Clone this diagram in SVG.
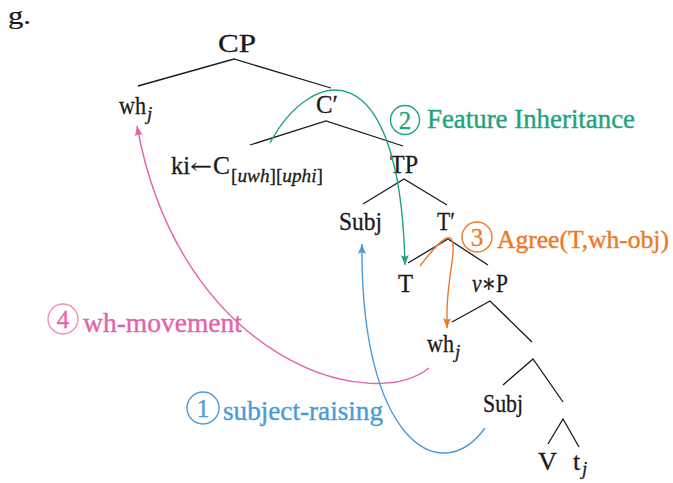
<svg xmlns="http://www.w3.org/2000/svg" width="673" height="483" viewBox="0 0 673 483">
<style>
.n{font-family:"Liberation Serif","DejaVu Serif",serif;font-size:26px;fill:#1a1a1a;stroke:#1a1a1a;stroke-width:0.3}
.s{font-family:"Liberation Serif","DejaVu Serif",serif;font-size:19px;fill:#1a1a1a;stroke:#1a1a1a;stroke-width:0.3}
.i{font-style:italic}
.br{fill:none;stroke:#1a1a1a;stroke-width:1.3}
.lab{font-family:"Liberation Serif","DejaVu Serif",serif;font-size:27px;stroke-width:0.4}
.num{font-family:"Liberation Serif","DejaVu Serif",serif;font-size:25px;text-anchor:middle;stroke-width:0.3}
.arc{fill:none;stroke-width:1.4}
</style>
<defs>
<marker id="ag" viewBox="0 0 10 8" refX="10" refY="4" markerWidth="10" markerHeight="8" markerUnits="userSpaceOnUse" orient="auto"><path d="M10,4 L0,0 Q3,4 0,8 Z" fill="#1fa37e"/></marker>
<marker id="ao" viewBox="0 0 10 8" refX="10" refY="4" markerWidth="10" markerHeight="8" markerUnits="userSpaceOnUse" orient="auto"><path d="M10,4 L0,0 Q3,4 0,8 Z" fill="#ec7a26"/></marker>
<marker id="ap" viewBox="0 0 10 8" refX="10" refY="4" markerWidth="10" markerHeight="8" markerUnits="userSpaceOnUse" orient="auto"><path d="M10,4 L0,0 Q3,4 0,8 Z" fill="#e065aa"/></marker>
<marker id="ab" viewBox="0 0 10 8" refX="10" refY="4" markerWidth="10" markerHeight="8" markerUnits="userSpaceOnUse" orient="auto"><path d="M10,4 L0,0 Q3,4 0,8 Z" fill="#4a9cd8"/></marker>
</defs>
<rect width="673" height="483" fill="#fff"/>
<text x="8" y="24" class="n" style="font-size:25px;stroke-width:0.2" textLength="23" lengthAdjust="spacingAndGlyphs">g.</text>

<g id="tree-lines" class="br">
<path d="M138,86 L234,59 L331,88"/>
<path d="M250,145 L326,121 L403,146"/>
<path d="M363,204 L404,179 L447,205"/>
<path d="M408,263 L448,239 L488,265"/>
<path d="M452,322 L490,301 L532,342"/>
<path d="M503,385 L533,359 L563,402"/>
<path d="M548,444 L563,419 L579,447"/>
</g>

<g id="CP"><text x="218" y="52" class="n" textLength="38" lengthAdjust="spacingAndGlyphs">CP</text></g>
<g id="wh-top"><text x="119" y="114" class="n" textLength="27" lengthAdjust="spacingAndGlyphs">wh</text><text x="147" y="120" class="s i">j</text></g>
<g id="Cbar"><text x="316" y="113" class="n" textLength="22" lengthAdjust="spacingAndGlyphs">C′</text></g>
<g id="C"><text x="171" y="174" class="n" textLength="19" lengthAdjust="spacingAndGlyphs">ki</text><text x="190" y="173" class="n" style="font-family:'DejaVu Serif',serif;font-size:20px;stroke-width:0.2" textLength="22" lengthAdjust="spacingAndGlyphs">←</text><text x="213" y="174" class="n" textLength="17" lengthAdjust="spacingAndGlyphs">C</text><text x="231" y="182" class="s" textLength="92" lengthAdjust="spacingAndGlyphs">[<tspan class="i">uwh</tspan>][<tspan class="i">uphi</tspan>]</text></g>
<g id="TP"><text x="390" y="173" class="n" textLength="28" lengthAdjust="spacingAndGlyphs">TP</text></g>
<g id="Subj-top"><text x="339" y="230" class="n" textLength="43" lengthAdjust="spacingAndGlyphs">Subj</text></g>
<g id="Tbar"><text x="437" y="230" class="n" textLength="18" lengthAdjust="spacingAndGlyphs">T′</text></g>
<g id="T"><text x="398" y="292" class="n" textLength="15" lengthAdjust="spacingAndGlyphs">T</text></g>
<g id="vP"><text x="472" y="292" class="n" textLength="36" lengthAdjust="spacingAndGlyphs"><tspan class="i">v</tspan>∗P</text></g>
<g id="wh-low"><text x="427" y="352" class="n" textLength="27" lengthAdjust="spacingAndGlyphs">wh</text><text x="455" y="358" class="s i">j</text></g>
<g id="Subj-low"><text x="483" y="412" class="n" textLength="40" lengthAdjust="spacingAndGlyphs">Subj</text></g>
<g id="V"><text x="538" y="470" class="n" textLength="19" lengthAdjust="spacingAndGlyphs">V</text></g>
<g id="t"><text x="573" y="470" class="n">t</text><text x="582" y="475" class="s i">j</text></g>

<g id="connectors">
<path class="arc" stroke="#1fa37e" d="M270,143 C310,68 400,45 405,265" marker-end="url(#ag)"/>
<path class="arc" stroke="#ec7a26" d="M420,266 C440,240 458,220 452,262 S447,310 447,328" marker-end="url(#ao)"/>
<path class="arc" stroke="#e065aa" d="M429,368 C370,415 180,360 137,126" marker-end="url(#ap)"/>
<path class="arc" stroke="#4a9cd8" d="M485,428 C440,490 360,440 362,244" marker-end="url(#ab)"/>
</g>

<g id="label-2">
<circle cx="405" cy="120" r="14.5" fill="none" stroke="#1fa37e" stroke-width="1.4"/>
<text x="405" y="128.5" class="num" fill="#1fa37e" stroke="#1fa37e">2</text>
<text x="427" y="128" class="lab" fill="#1fa37e" stroke="#1fa37e" textLength="208" lengthAdjust="spacingAndGlyphs">Feature Inheritance</text>
</g>
<g id="label-3">
<circle cx="477" cy="237" r="15" fill="none" stroke="#ec7a26" stroke-width="1.4"/>
<text x="477" y="245.5" class="num" fill="#ec7a26" stroke="#ec7a26">3</text>
<text x="497" y="248" class="lab" fill="#ec7a26" stroke="#ec7a26" style="font-size:26px" textLength="172" lengthAdjust="spacingAndGlyphs">Agree(T,wh-obj)</text>
</g>
<g id="label-4">
<circle cx="63" cy="319" r="15" fill="none" stroke="#f08fb2" stroke-width="1.4"/>
<text x="63" y="327.5" class="num" fill="#e065aa" stroke="#e065aa">4</text>
<text x="83" y="332" class="lab" fill="#e065aa" stroke="#e065aa" textLength="159" lengthAdjust="spacingAndGlyphs">wh-movement</text>
</g>
<g id="label-1">
<circle cx="203" cy="408" r="16" fill="none" stroke="#4a9cd8" stroke-width="1.4"/>
<text x="203" y="416.5" class="num" fill="#4a9cd8" stroke="#4a9cd8">1</text>
<text x="223" y="420" class="lab" fill="#4a9cd8" stroke="#4a9cd8" textLength="160" lengthAdjust="spacingAndGlyphs">subject-raising</text>
</g>
</svg>
